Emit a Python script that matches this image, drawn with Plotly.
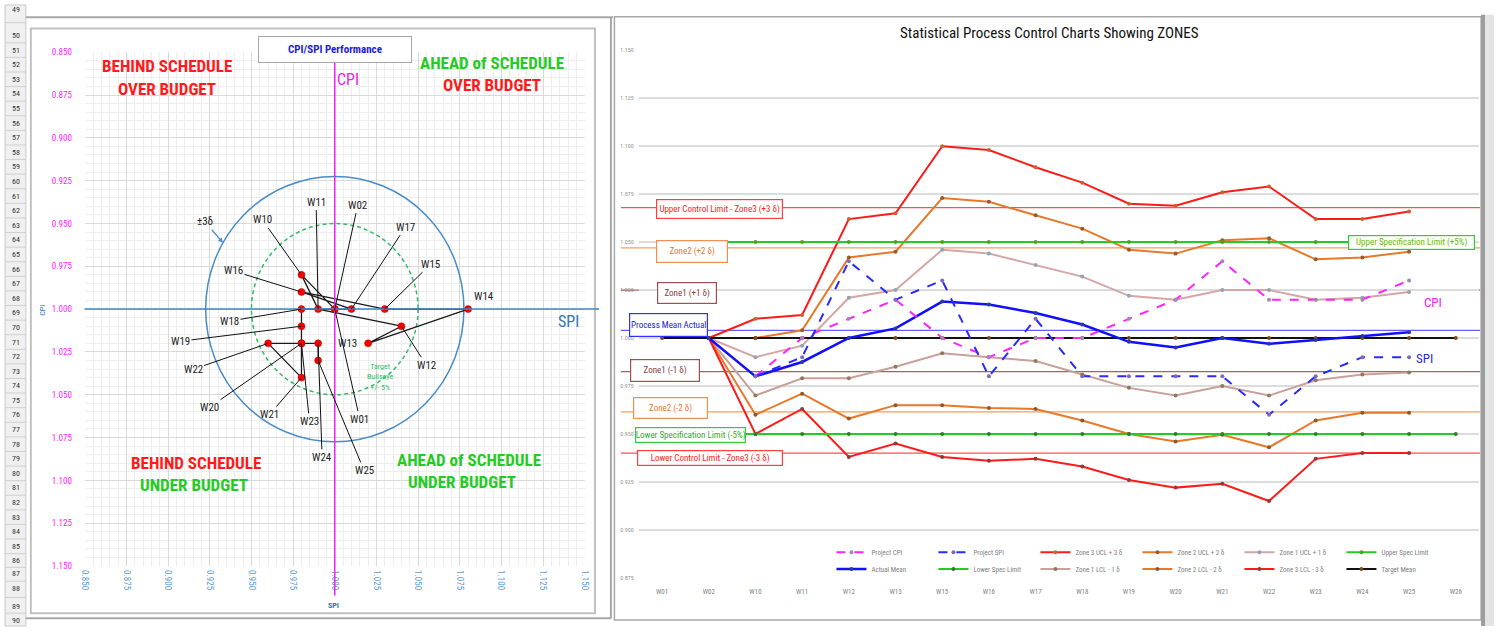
import math
import plotly.graph_objects as go

W, H = 1499, 631
def px(x):
    return x / W
def py(y):
    return 1 - y / H

FONT = "Liberation Sans Narrow, Arial Narrow, Roboto Condensed, sans-serif"

# ---------------- Left chart data: CPI / SPI performance ----------------
weeks_left = ["W01", "W02", "W10", "W11", "W12", "W13", "W14", "W15", "W16",
              "W17", "W18", "W19", "W20", "W21", "W22", "W23", "W24", "W25"]
spi_left = [1.00, 1.00, 0.98, 0.99, 1.04, 1.02, 1.08, 1.03, 0.98,
            1.01, 0.98, 0.98, 0.98, 0.98, 0.96, 0.98, 0.99, 0.99]
cpi_left = [1.00, 1.00, 0.98, 1.00, 1.01, 1.02, 1.00, 1.00, 0.99,
            1.00, 1.00, 1.01, 1.02, 1.04, 1.02, 1.02, 1.02, 1.03]
sigma3_radius = 0.0775
bullseye_radius = 0.05

# ---------------- Right chart data: SPC zones ----------------
weeks = ["W01", "W02", "W10", "W11", "W12", "W13", "W15", "W16", "W17",
         "W18", "W19", "W20", "W21", "W22", "W23", "W24", "W25", "W26"]
project_cpi = [None, None, 0.980, 1.000, 1.010, 1.020, 1.000, 0.990, 1.000,
               1.000, 1.010, 1.020, 1.040, 1.020, 1.020, 1.020, 1.030, None]
project_spi = [None, None, 0.980, 0.990, 1.040, 1.020, 1.030, 0.980, 1.010,
               0.980, 0.980, 0.980, 0.980, 0.960, 0.980, 0.990, 0.990, None]
zone3_ucl = [None, 1.000, 1.010, 1.012, 1.062, 1.065, 1.100, 1.098, 1.089,
             1.081, 1.070, 1.069, 1.076, 1.079, 1.062, 1.062, 1.066, None]
zone2_ucl = [None, 1.000, 1.000, 1.004, 1.042, 1.045, 1.073, 1.071, 1.064,
             1.057, 1.046, 1.044, 1.051, 1.052, 1.041, 1.042, 1.045, None]
zone1_ucl = [None, 1.000, 0.990, 0.996, 1.021, 1.025, 1.046, 1.044, 1.038,
             1.032, 1.022, 1.020, 1.025, 1.025, 1.020, 1.021, 1.024, None]
upper_spec = [1.050, 1.050, 1.050, 1.050, 1.050, 1.050, 1.050, 1.050, 1.050,
              1.050, 1.050, 1.050, 1.050, 1.050, 1.050, 1.050, 1.050, 1.050]
actual_mean = [None, 1.000, 0.980, 0.9875, 1.000, 1.005, 1.019, 1.0175, 1.013,
               1.007, 0.998, 0.995, 1.000, 0.997, 0.999, 1.001, 1.003, None]
lower_spec = [0.950, 0.950, 0.950, 0.950, 0.950, 0.950, 0.950, 0.950, 0.950,
              0.950, 0.950, 0.950, 0.950, 0.950, 0.950, 0.950, 0.950, 0.950]
zone1_lcl = [None, 1.000, 0.970, 0.979, 0.979, 0.985, 0.992, 0.990, 0.988,
             0.981, 0.974, 0.970, 0.975, 0.970, 0.978, 0.981, 0.982, None]
zone2_lcl = [None, 1.000, 0.960, 0.971, 0.958, 0.965, 0.965, 0.9635, 0.963,
             0.957, 0.950, 0.946, 0.9495, 0.943, 0.957, 0.961, 0.961, None]
zone3_lcl = [None, 1.000, 0.950, 0.963, 0.938, 0.945, 0.938, 0.936, 0.937,
             0.933, 0.926, 0.922, 0.924, 0.915, 0.937, 0.940, 0.940, None]
target_mean = [1.000, 1.000, 1.000, 1.000, 1.000, 1.000, 1.000, 1.000, 1.000,
               1.000, 1.000, 1.000, 1.000, 1.000, 1.000, 1.000, 1.000, 1.000]

# control-limit levels (horizontal reference lines)
ucl3_level = 1.068
ucl2_level = 1.047
ucl1_level = 1.025
mean_level = 1.004
lcl1_level = 0.9825
lcl2_level = 0.9615
lcl3_level = 0.940
usl_level = 1.050
lsl_level = 0.950

fig = go.Figure()

# ---------------- Left chart traces ----------------
fig.add_trace(go.Scatter(
    x=spi_left, y=cpi_left, mode="lines+markers", xaxis="x", yaxis="y",
    line=dict(color="#1a1a1a", width=1.3),
    marker=dict(color="#FF0000", size=7, line=dict(width=0.5, color="#B00000")),
    showlegend=False, hoverinfo="skip"))

# ---------------- Right chart traces ----------------
RED = "#FF1A1A"
ORANGE = "#E8782A"
ROSY = "#D6A5A5"
GREEN = "#22CC22"
right_specs = [
    # name, data, color, width, dash, marker color, legend, rank
    ("Zone 3 UCL + 3 δ", zone3_ucl, RED, 2, "solid", "#C86432", "legend", 3),
    ("Zone 2 UCL + 2 δ", zone2_ucl, ORANGE, 2, "solid", "#9C5A2A", "legend", 4),
    ("Zone 1 UCL + 1 δ", zone1_ucl, ROSY, 2, "solid", "#8FA5B0", "legend", 5),
    ("Upper Spec Limit", upper_spec, GREEN, 2, "solid", "#5A9A2A", "legend", 6),
    ("Zone 1 LCL - 1 δ", zone1_lcl, "#C9A09A", 2, "solid", "#8C7A5A", "legend2", 9),
    ("Zone 2 LCL - 2 δ", zone2_lcl, ORANGE, 2, "solid", "#8C5A2A", "legend2", 10),
    ("Zone 3 LCL - 3 δ", zone3_lcl, RED, 2, "solid", "#8C3A3A", "legend2", 11),
    ("Lower Spec Limit", lower_spec, GREEN, 2, "solid", "#3A7A2A", "legend2", 8),
    ("Target Mean", target_mean, "#111111", 2, "solid", "#7A4A1A", "legend2", 12),
    ("Actual Mean", actual_mean, "#1010FF", 2.5, "solid", "#2A3A9A", "legend2", 7),
    ("Project CPI", project_cpi, "#FF22FF", 2, "dash", "#A08AB0", "legend", 1),
    ("Project SPI", project_spi, "#2A2AFF", 2, "dash", "#7A6AC0", "legend", 2),
]
for name, data, color, width, dash, mcol, leg, rank in right_specs:
    fig.add_trace(go.Scatter(
        x=weeks, y=data, name=name, mode="lines+markers", xaxis="x2", yaxis="y2",
        line=dict(color=color, width=width, dash=dash),
        marker=dict(color=mcol, size=4),
        legend=leg, legendrank=rank, connectgaps=False, hoverinfo="skip"))

# ---------------- Shapes ----------------
shapes = []
# spreadsheet row-header column
shapes.append(dict(type="rect", xref="paper", yref="paper", x0=0, x1=px(21), y0=0, y1=1,
                   fillcolor="#F0F0F0", line=dict(color="#C8C8C8", width=1), layer="below"))
row_labels = ["49", "50", "51", "52", "53", "54", "55", "56", "57", "58", "59", "60",
              "61", "62", "63", "64", "65", "66", "67", "68", "69", "70", "71", "72",
              "73", "74", "75", "76", "77", "78", "79", "80", "81", "82", "83", "84",
              "85", "86", "87", "88", "89", "90"]
row_y = [5] + [31 + i * 14.83 for i in range(37)] + [578, 593, 611, 625]
for a, b in zip(row_y[:-1], row_y[1:]):
    m = (a + b) / 2
    shapes.append(dict(type="line", xref="paper", yref="paper", x0=0, x1=px(21),
                       y0=py(m), y1=py(m), line=dict(color="#D0D0D0", width=1), layer="below"))
# sheet frame lines
shapes.append(dict(type="line", xref="paper", yref="paper", x0=px(21), x1=px(612),
                   y0=py(12.5), y1=py(12.5), line=dict(color="#A8A8A8", width=2), layer="below"))
shapes.append(dict(type="line", xref="paper", yref="paper", x0=px(610), x1=px(610),
                   y0=py(12.5), y1=py(623), line=dict(color="#A8A8A8", width=2), layer="below"))
shapes.append(dict(type="line", xref="paper", yref="paper", x0=px(21), x1=px(610),
                   y0=py(623), y1=py(623), line=dict(color="#A8A8A8", width=2), layer="below"))
# left chart frame
shapes.append(dict(type="rect", xref="paper", yref="paper", x0=px(26), x1=px(594),
                   y0=py(618), y1=py(24), line=dict(color="#C0C0C0", width=2), layer="below"))
# right chart frame
shapes.append(dict(type="rect", xref="paper", yref="paper", x0=px(613.5), x1=px(1486),
                   y0=py(625), y1=py(12), line=dict(color="#A8A8A8", width=1.5), layer="below"))
shapes.append(dict(type="rect", xref="paper", yref="paper", x0=px(1486), x1=px(1490),
                   y0=py(631), y1=py(10), fillcolor="#9C9C9C", line=dict(width=0), layer="below"))
shapes.append(dict(type="rect", xref="paper", yref="paper", x0=px(1490), x1=px(1499),
                   y0=py(631), y1=py(10), fillcolor="#E4E4E4", line=dict(width=0), layer="below"))

# left chart circles and axes lines
shapes.append(dict(type="circle", xref="x", yref="y",
                   x0=1 - sigma3_radius, x1=1 + sigma3_radius,
                   y0=1 - sigma3_radius, y1=1 + sigma3_radius,
                   line=dict(color="#4A8CC8", width=1.5), layer="between"))
shapes.append(dict(type="circle", xref="x", yref="y",
                   x0=1 - bullseye_radius, x1=1 + bullseye_radius,
                   y0=1 - bullseye_radius, y1=1 + bullseye_radius,
                   line=dict(color="#33BB66", width=1.5, dash="4px,3px"), layer="between"))
shapes.append(dict(type="line", xref="paper", yref="y", x0=px(80), x1=px(598),
                   y0=1.0, y1=1.0, line=dict(color="#3A86C8", width=1.5)))
shapes.append(dict(type="line", xref="x", yref="paper", x0=1.0, x1=1.0,
                   y0=py(600), y1=py(59), line=dict(color="#EE22EE", width=1.5)))

# right chart horizontal reference lines
ref_lines = [(ucl3_level, "#FF5050"), (ucl2_level, "#F0A060"), (ucl1_level, "#A86060"),
             (mean_level, "#6060FF"), (lcl1_level, "#A86060"), (lcl2_level, "#F0A060"),
             (lcl3_level, "#FF5050")]
for lvl, col in ref_lines:
    shapes.append(dict(type="line", xref="paper", yref="y2", x0=px(620), x1=px(1485),
                       y0=lvl, y1=lvl, line=dict(color=col, width=1.2), layer="below"))

# ---------------- Annotations ----------------
anns = []
def text_px(x, y, text, size, color, bold=False, **kw):
    d = dict(xref="paper", yref="paper", x=px(x), y=py(y),
             text=("<b>%s</b>" % text) if bold else text, showarrow=False,
             font=dict(family=FONT, size=size, color=color),
             xanchor="center", yanchor="middle")
    d.update(kw)
    anns.append(d)

# row header numbers
for lab, yy in zip(row_labels, row_y):
    text_px(11, yy, lab, 8, "#333333")

# left chart texts
text_px(332, 45.5, "CPI/SPI Performance", 11, "#1A1AE6", bold=True,
        bgcolor="white", bordercolor="#A8A8A8", borderwidth=1, borderpad=0,
        width=152, height=25)
text_px(163, 62, "BEHIND SCHEDULE", 17, "#FF1A1A", bold=True)
text_px(163, 85, "OVER BUDGET", 17, "#FF1A1A", bold=True)
text_px(490, 59, "AHEAD of SCHEDULE", 17, "#22CC22", bold=True)
text_px(490, 81, "OVER BUDGET", 17, "#FF1A1A", bold=True)
text_px(192, 465, "BEHIND SCHEDULE", 17, "#FF1A1A", bold=True)
text_px(190, 488, "UNDER BUDGET", 17, "#22CC22", bold=True)
text_px(467, 462, "AHEAD of SCHEDULE", 17, "#22CC22", bold=True)
text_px(460, 485, "UNDER BUDGET", 17, "#22CC22", bold=True)
text_px(345, 76, "CPI", 16, "#EE22EE")
text_px(567, 322, "SPI", 16, "#2E75B6")
text_px(37, 310, "CPI", 8, "#2E75B6", textangle=-90)
text_px(331, 610, "<b>SPI</b>", 8, "#2E75B6")
text_px(378, 378, "Target<br>Bullseye<br>+/- 5%", 8, "#33BB66")

# ±3δ pointer onto the outer circle
ang = math.radians(150)
anns.append(dict(xref="x", yref="y", x=1 + sigma3_radius * math.cos(ang),
                 y=1 - sigma3_radius * math.sin(ang), text="±3δ", showarrow=True,
                 ax=-18, ay=-21, arrowhead=2, arrowsize=0.8, arrowwidth=1.2,
                 arrowcolor="#4A8CC8", font=dict(family=FONT, size=11, color="#222222")))

# week labels with leader lines (pixel offsets from each point)
label_offsets = [(25, 110, True), (23, -104, True), (-39, -55, True), (-2, -107, True),
                 (25, 39, True), (-21, 0, False), (16, -13, False), (46, -45, True),
                 (-68, -21, True), (54, -82, True), (-72, 12, True), (-121, 15, True),
                 (-92, 64, True), (-32, 37, True), (-75, 26, True), (8, 78, True),
                 (4, 114, True), (46, 110, True)]
for wk, sx, cy, (ax, ay, lead) in zip(weeks_left, spi_left, cpi_left, label_offsets):
    anns.append(dict(xref="x", yref="y", x=sx, y=cy, text=wk, showarrow=True,
                     ax=ax, ay=ay, arrowhead=0, arrowwidth=1, standoff=0,
                     arrowcolor="#111111" if lead else "rgba(0,0,0,0)",
                     font=dict(family=FONT, size=11, color="#222222")))

# right chart title
text_px(1052, 28, "Statistical Process Control Charts Showing ZONES", 15, "#111111")

# right chart zone labels boxes
zone_boxes = [
    ("Upper Control Limit - Zone3 (+3 δ)", ucl3_level, 719, 128, 21, "#FF1A1A", "#FF4040", -1.5),
    ("Zone2 (+2 δ)", ucl2_level, 691.5, 73, 24, "#E8782A", "#EE9050", -4),
    ("Zone1 (+1 δ)", ucl1_level, 686.5, 61, 23, "#8C3A3A", "#A05050", -3),
    ("Process Mean Actual", mean_level, 668, 80, 25, "#1A1AE6", "#3030FF", 5),
    ("Zone1 (-1 δ)", lcl1_level, 664.5, 71, 24, "#8C3A3A", "#A05050", 1),
    ("Zone2 (-2 δ)", lcl2_level, 670, 76, 23, "#E8782A", "#EE9050", 4),
    ("Lower Specification Limit (-5%)", lsl_level, 690, 112, 17, "#1FB01F", "#33CC33", -1),
    ("Lower Control Limit - Zone3 (-3 δ)", lcl3_level, 709.5, 147, 17, "#FF1A1A", "#FF4040", -5),
    ("Upper Specification Limit (+5%)", usl_level, 1416, 128, 16, "#66BB00", "#33CC33", 0),
]
for txt, lvl, cx, bw, bh, tcol, bcol, ys in zone_boxes:
    anns.append(dict(xref="paper", yref="y2", x=px(cx), y=lvl, yshift=ys, text=txt,
                     showarrow=False, xanchor="center", yanchor="middle",
                     font=dict(family=FONT, size=9, color=tcol),
                     bgcolor="white", bordercolor=bcol, borderwidth=1.2, borderpad=0,
                     width=bw - 3, height=bh - 3))

anns.append(dict(xref="x2", yref="y2", x=weeks[16], y=project_cpi[16], text="CPI",
                 showarrow=False, xanchor="left", yanchor="middle", xshift=13, yshift=-22,
                 font=dict(family=FONT, size=13, color="#EE22EE")))
anns.append(dict(xref="x2", yref="y2", x=weeks[16], y=project_spi[16], text="SPI",
                 showarrow=False, xanchor="left", yanchor="middle", xshift=5, yshift=-1,
                 font=dict(family=FONT, size=13, color="#2A2AE0")))

legend_common = dict(orientation="h", xanchor="left", yanchor="middle",
                     font=dict(family=FONT, size=7, color="#808080"),
                     itemwidth=30, entrywidth=57, entrywidthmode="pixels",
                     bgcolor="rgba(0,0,0,0)", tracegroupgap=0)

fig.update_layout(
    width=W, height=H, margin=dict(l=0, r=0, t=0, b=0),
    paper_bgcolor="white", plot_bgcolor="rgba(0,0,0,0)",
    font=dict(family=FONT),
    shapes=shapes, annotations=anns,
    legend=dict(x=px(832), y=py(556), **legend_common),
    legend2=dict(x=px(832), y=py(573), **legend_common),
    xaxis=dict(domain=[px(80.4), px(583.6)], range=[0.85, 1.15], anchor="y",
               tick0=0.85, dtick=0.025, tickformat=".3f", tickangle=90,
               tickfont=dict(family=FONT, size=9, color="#5B9BD5"),
               showgrid=True, gridcolor="#D9D9D9", gridwidth=1, zeroline=False,
               minor=dict(dtick=0.005, showgrid=True, gridcolor="#EEEEEE", gridwidth=1),
               ticks="", showline=False, ticklabelstandoff=3),
    yaxis=dict(domain=[py(570), py(48)], range=[1.15, 0.85], anchor="x",
               tick0=0.85, dtick=0.025, tickformat=".3f",
               tickfont=dict(family=FONT, size=9, color="#FF22FF"),
               showgrid=True, gridcolor="#D9D9D9", gridwidth=1, zeroline=False,
               minor=dict(dtick=0.005, showgrid=True, gridcolor="#EEEEEE", gridwidth=1),
               ticks="", showline=False, ticklabelstandoff=12),
    xaxis2=dict(domain=[px(638), px(1484)], type="category", categoryorder="array",
                categoryarray=weeks, range=[-0.5, 17.5], anchor="y2",
                tickfont=dict(family=FONT, size=7, color="#808080"),
                showgrid=False, zeroline=False, ticks="", showline=False,
                ticklabelstandoff=8),
    yaxis2=dict(domain=[py(582), py(46)], range=[0.875, 1.150], anchor="x2",
                tick0=0.875, dtick=0.025, tickformat=".3f",
                tickfont=dict(family=FONT, size=6, color="#909090"),
                showgrid=True, gridcolor="#DCDCDC", gridwidth=1.5, zeroline=False,
                ticks="", showline=False, ticklabelstandoff=4),
)

fig.write_html(
    "out.html",
    config={"displayModeBar": False},
    post_script=("document.body.style.margin='0';document.body.style.padding='0';"
                 "document.documentElement.style.overflow='hidden';"),
)
